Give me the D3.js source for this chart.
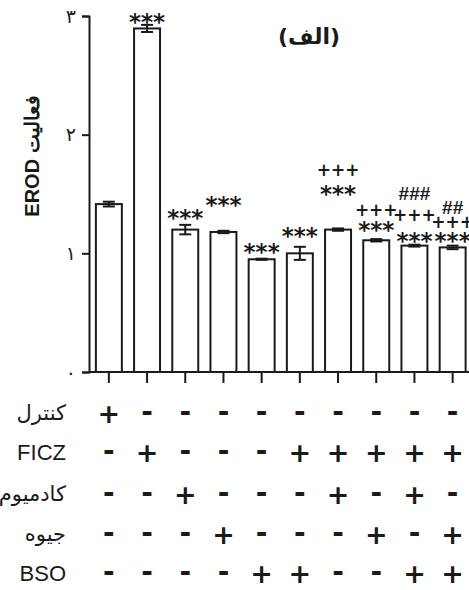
<!DOCTYPE html>
<html>
<head>
<meta charset="utf-8">
<script src="https://cdn.jsdelivr.net/npm/d3@7"></script>
<style>
body { margin: 0; background: #fff; }
text { font-family: "Liberation Sans", Arial, sans-serif; }
</style>
</head>
<body>
<div class="chart"></div>
<script>
// data
var groups = ["g1", "g2", "g3", "g4", "g5", "g6", "g7", "g8", "g9", "g10"];
var means = [1.415, 2.895, 1.20, 1.18, 0.95, 1.00, 1.20, 1.11, 1.065, 1.05];
var errs = [0.02, 0.03, 0.04, 0.01, 0.005, 0.055, 0.01, 0.01, 0.008, 0.015];
var yTicks = [0, 1, 2, 3];
var yTickLabels = ["۰", "۱", "۲", "۳"];

// significance marks: bar index, text, level (in y units, centre of the text)
var marks = [
    {bar: 1, text: "***", level: 2.99},
    {bar: 2, text: "***", level: 1.34},
    {bar: 3, text: "***", level: 1.45},
    {bar: 4, text: "***", level: 1.05},
    {bar: 5, text: "***", level: 1.19},
    {bar: 6, text: "***", level: 1.54},
    {bar: 6, text: "+++", level: 1.70},
    {bar: 7, text: "***", level: 1.24},
    {bar: 7, text: "+++", level: 1.37},
    {bar: 8, text: "***", level: 1.145},
    {bar: 8, text: "+++", level: 1.32},
    {bar: 8, text: "###", level: 1.505},
    {bar: 9, text: "***", level: 1.145},
    {bar: 9, text: "+++", level: 1.265},
    {bar: 9, text: "##", level: 1.385}
];

// treatment table under the chart
var rowLabels = ["کنترل", "FICZ", "کادمیوم", "جیوه", "BSO"];
var treatments = [
    [1, 0, 0, 0, 0, 0, 0, 0, 0, 0],
    [0, 1, 0, 0, 0, 1, 1, 1, 1, 1],
    [0, 0, 1, 0, 0, 0, 1, 0, 1, 0],
    [0, 0, 0, 1, 0, 0, 0, 1, 0, 1],
    [0, 0, 0, 0, 1, 1, 0, 0, 1, 1]
];
var rowY = [413, 452, 494, 534, 573];

var svgWidth = 469;
var svgHeight = 590;

var svg = d3.select(".chart").append("svg")
    .attr("width", svgWidth)
    .attr("height", svgHeight);

var x = d3.scaleBand()
    .domain(groups)
    .range([89, 472.5])
    .paddingInner(0.32)
    .paddingOuter(0.18);

var y = d3.scaleLinear().domain([0, 3]).range([372, 16]);

var ink = "#1a1a1a";
var mid = function(i) { return x(groups[i]) + x.bandwidth() / 2; };

// y axis
var yAxis = svg.append("g")
    .attr("transform", "translate(89,0)")
    .call(d3.axisLeft(y).tickValues(yTicks).tickSize(7).tickFormat(function(d, i) { return yTickLabels[i]; }));
yAxis.select(".domain").attr("stroke", ink).attr("stroke-width", 2);
yAxis.selectAll(".tick line").attr("stroke", ink).attr("stroke-width", 2);
yAxis.selectAll(".tick text")
    .attr("font-size", 19)
    .attr("fill", ink)
    .attr("x", -13)
    .style("font-family", "DejaVu Sans");

// x axis
var xAxis = svg.append("g")
    .attr("transform", "translate(0,372)")
    .call(d3.axisBottom(x).tickSize(11).tickSizeOuter(0).tickFormat(""));
xAxis.select(".domain").attr("stroke", ink).attr("stroke-width", 2)
    .attr("d", "M89,0H469");
xAxis.selectAll(".tick line").attr("stroke", ink).attr("stroke-width", 2);

// bars
svg.selectAll(".bar")
    .data(means)
    .enter().append("rect")
    .attr("class", "bar")
    .attr("x", function(d, i) { return x(groups[i]); })
    .attr("y", function(d) { return y(d); })
    .attr("width", x.bandwidth())
    .attr("height", function(d) { return y(0) - y(d); })
    .attr("fill", "#fff")
    .attr("stroke", ink)
    .attr("stroke-width", 2);

// error bars
var eb = svg.selectAll(".err")
    .data(means)
    .enter().append("g")
    .attr("class", "err")
    .attr("stroke", ink)
    .attr("stroke-width", 2);
eb.append("line")
    .attr("x1", function(d, i) { return mid(i); })
    .attr("x2", function(d, i) { return mid(i); })
    .attr("y1", function(d, i) { return y(d - errs[i]); })
    .attr("y2", function(d, i) { return y(d + errs[i]); });
eb.append("line")
    .attr("x1", function(d, i) { return mid(i) - 6; })
    .attr("x2", function(d, i) { return mid(i) + 6; })
    .attr("y1", function(d, i) { return y(d + errs[i]); })
    .attr("y2", function(d, i) { return y(d + errs[i]); });
eb.append("line")
    .attr("x1", function(d, i) { return mid(i) - 6; })
    .attr("x2", function(d, i) { return mid(i) + 6; })
    .attr("y1", function(d, i) { return y(d - errs[i]); })
    .attr("y2", function(d, i) { return y(d - errs[i]); });

// significance marks
var markFont = {
    "***": {family: "DejaVu Sans", size: 23, weight: "bold", dy: "0.56em"},
    "+++": {family: "DejaVu Sans", size: 17, weight: "bold", dy: "0.36em"},
    "###": {family: "Liberation Sans", size: 19, weight: "bold", dy: "0.36em"},
    "##": {family: "Liberation Sans", size: 19, weight: "bold", dy: "0.36em"}
};
svg.selectAll(".mark")
    .data(marks)
    .enter().append("text")
    .attr("class", "mark")
    .attr("x", function(d) { return mid(d.bar); })
    .attr("y", function(d) { return y(d.level); })
    .attr("dy", function(d) { return markFont[d.text].dy; })
    .attr("text-anchor", "middle")
    .attr("font-size", function(d) { return markFont[d.text].size; })
    .attr("font-weight", function(d) { return markFont[d.text].weight; })
    .style("font-family", function(d) { return markFont[d.text].family; })
    .attr("fill", ink)
    .text(function(d) { return d.text; });

// y label
svg.append("text")
    .attr("transform", "translate(32,156) rotate(-90)")
    .attr("text-anchor", "middle")
    .attr("dy", "0.35em")
    .attr("font-size", 20)
    .attr("font-weight", "bold")
    .attr("fill", ink)
    .text("EROD فعالیت");

// panel title
svg.append("text")
    .attr("x", 309)
    .attr("y", 36)
    .attr("dy", "0.35em")
    .attr("text-anchor", "middle")
    .attr("font-size", 22)
    .attr("font-weight", "bold")
    .attr("fill", ink)
    .style("font-family", "DejaVu Sans")
    .text("(الف)");

// treatment table
var rows = svg.selectAll(".row")
    .data(treatments)
    .enter().append("g")
    .attr("class", "row")
    .attr("transform", function(d, i) { return "translate(0," + rowY[i] + ")"; });

rows.append("text")
    .attr("x", 66)
    .attr("dy", "0.35em")
    .attr("text-anchor", "end")
    .attr("font-size", function(d, i) { return /[A-Z]/.test(rowLabels[i]) ? 22 : 21; })
    .attr("fill", ink)
    .style("font-family", function(d, i) { return /[A-Z]/.test(rowLabels[i]) ? "Liberation Sans" : "DejaVu Sans"; })
    .text(function(d, i) { return rowLabels[i]; });

rows.selectAll(".sym")
    .data(function(d) { return d; })
    .enter().append("text")
    .attr("class", "sym")
    .attr("x", function(d, j) { return mid(j); })
    .attr("dy", function(d) { return d ? "0.36em" : "0.3em"; })
    .attr("text-anchor", "middle")
    .attr("font-size", function(d) { return d ? 27 : 28; })
    .attr("font-weight", "bold")
    .style("font-family", "DejaVu Sans")
    .attr("fill", ink)
    .text(function(d) { return d ? "+" : "-"; });
</script>
</body>
</html>
